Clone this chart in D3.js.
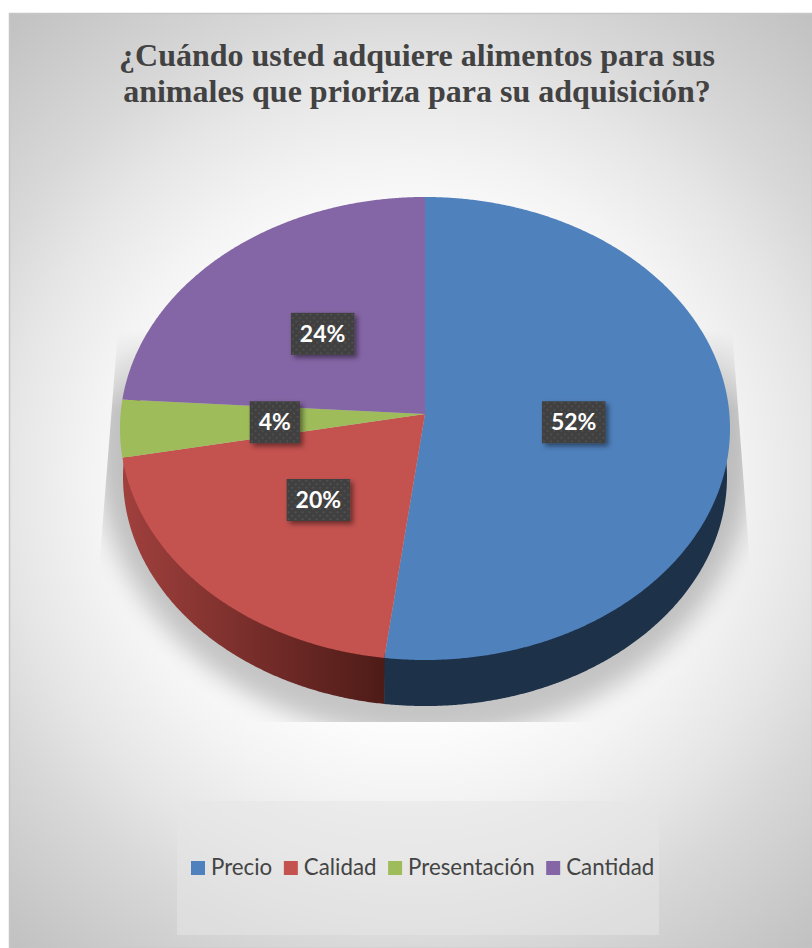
<!DOCTYPE html>
<html lang="es">
<head>
<meta charset="utf-8">
<title>Prioridades al adquirir alimentos</title>
<script src="https://cdn.jsdelivr.net/npm/d3@7/dist/d3.min.js"></script>
<style>
  html, body { margin: 0; padding: 0; background: #fff; }
  svg { display: block; }
</style>
</head>
<body>
<svg id="chart" width="812" height="948"></svg>
<script>
// Chart content
const categories = ["Precio", "Calidad", "Presentación", "Cantidad"];
const shares = [52, 20, 4, 24];
const titleLines = [
  "¿Cuándo usted adquiere alimentos para sus",
  "animales que prioriza para su adquisición?"
];

// Styling per category
const faceColors = ["#4f81bd", "#c4524f", "#9ebc5a", "#8465a5"];
const sideStart = ["#1d3149", "#a0403d", "#7b9443", "#644f80"];
const sideEnd = ["#1d3149", "#4e1b17", "#7b9443", "#644f80"];
// Small hand adjustments to the data label anchors
const tagNudges = [[-3.5, 1], [0, 0], [2, 1], [-0.5, 2]];

const svg = d3.select("#chart");
const defs = svg.append("defs");

// Backdrop: wide radial fade from a near-white middle to grey corners
const backdrop = defs.append("radialGradient")
  .attr("id", "backdrop").attr("gradientUnits", "userSpaceOnUse")
  .attr("cx", 411).attr("cy", 480).attr("r", 620);
[[0, "#ffffff"], [0.39, "#fdfdfd"], [0.52, "#f3f3f3"], [0.65, "#e6e6e6"],
 [0.76, "#d8d8d8"], [1, "#c0c0c0"]].forEach(([o, c]) =>
  backdrop.append("stop").attr("offset", o).attr("stop-color", c));

svg.append("rect")
  .attr("x", 9.5).attr("y", 13.5).attr("width", 803).attr("height", 935)
  .attr("fill", "url(#backdrop)").attr("stroke", "#c6c6c6").attr("stroke-width", 1.5);

// Tilted disc: a unit circle seen in perspective, so the hub sits above the ellipse centre
const tilt = 0.0626;
const upper = { x: 425, y: 414, rx: 304.4, ry: 230.6 };
const lower = { x: 425, y: 462.5, rx: 301.4, ry: 228.3 };
const project = (plane, angle, r = 1) => {
  const ux = r * Math.sin(angle), uy = -r * Math.cos(angle);
  const w = 1 - tilt * uy;
  return [plane.x + plane.rx * ux / w, plane.y + plane.ry * uy / w];
};

const arcs = d3.pie().sort(null).value(d => d)(shares);
const rimPoints = (plane, a, r = 1) => {
  const n = Math.max(2, Math.ceil((a.endAngle - a.startAngle) / 0.006));
  return d3.range(n + 1).map(i =>
    project(plane, a.startAngle + (a.endAngle - a.startAngle) * i / n, r));
};
const line = d3.line();

// Soft cast shadow: trimmed by a slanted cut-out and fading out towards its top
defs.append("filter").attr("id", "castBlur")
  .attr("x", "-20%").attr("y", "-20%").attr("width", "140%").attr("height", "140%")
  .append("feGaussianBlur").attr("stdDeviation", 12);
const castFade = defs.append("linearGradient")
  .attr("id", "castFade").attr("gradientUnits", "userSpaceOnUse")
  .attr("x1", 0).attr("x2", 0).attr("y1", 330).attr("y2", 410);
castFade.append("stop").attr("offset", 0).attr("stop-color", "#000");
castFade.append("stop").attr("offset", 1).attr("stop-color", "#fff");
defs.append("mask").attr("id", "castMask")
  .attr("maskUnits", "userSpaceOnUse")
  .attr("x", 0).attr("y", 0).attr("width", 812).attr("height", 948)
  .append("polygon").attr("points", "118,330 87,722 762,722 732,330")
  .attr("fill", "url(#castFade)");
svg.append("g").attr("mask", "url(#castMask)")
  .append("ellipse")
  .attr("cx", 425).attr("cy", 450).attr("rx", 328).attr("ry", 288)
  .attr("fill", "#000").attr("opacity", 0.22).attr("filter", "url(#castBlur)");

// Rim of the disc: only the front-facing walls show, and the last of them
// runs on past the left silhouette, where the face hides its far end
const silhouette = 1.4 * Math.PI;
const walls = arcs
  .filter(a => a.startAngle < silhouette)
  .map(a => ({
    index: a.index,
    startAngle: a.startAngle,
    endAngle: a.endAngle > silhouette ? 1.6 * Math.PI : a.endAngle + 0.0015
  }))
  .reverse();
walls.forEach(w => {
  const xs = d3.extent(rimPoints(lower, w), p => p[0]);
  const g = defs.append("linearGradient")
    .attr("id", `side${w.index}`).attr("gradientUnits", "userSpaceOnUse")
    .attr("x1", xs[0]).attr("x2", xs[1]).attr("y1", 0).attr("y2", 0);
  g.append("stop").attr("offset", 0).attr("stop-color", sideStart[w.index]);
  g.append("stop").attr("offset", 1).attr("stop-color", sideEnd[w.index]);
});
svg.append("g").selectAll("path").data(walls).join("path")
  .attr("d", w => line(rimPoints(upper, w, 0.98).concat(rimPoints(lower, w).reverse())) + "Z")
  .attr("fill", w => `url(#side${w.index})`);

// Top faces
svg.append("g").selectAll("path").data(arcs).join("path")
  .attr("d", a => line([project(upper, a.startAngle, 0)].concat(rimPoints(upper, a))) + "Z")
  .attr("fill", a => faceColors[a.index]);

// Title
svg.append("g").selectAll("text").data(titleLines).join("text")
  .attr("x", 417).attr("y", (d, i) => 66 + i * 36)
  .attr("text-anchor", "middle")
  .attr("font-family", "'Liberation Serif', serif")
  .attr("font-weight", "bold").attr("font-size", 32).attr("fill", "#424242")
  .text(d => d);

// Data labels: dark dotted tags at half radius
const dots = defs.append("pattern").attr("id", "tagDots")
  .attr("patternUnits", "userSpaceOnUse").attr("width", 7).attr("height", 7);
dots.append("rect").attr("width", 7).attr("height", 7).attr("fill", "#404040");
dots.append("circle").attr("cx", 1.75).attr("cy", 1.75).attr("r", 0.9).attr("fill", "#555555");
dots.append("circle").attr("cx", 5.25).attr("cy", 5.25).attr("r", 0.9).attr("fill", "#555555");
defs.append("filter").attr("id", "tagShadow")
  .attr("x", "-30%").attr("y", "-30%").attr("width", "170%").attr("height", "170%")
  .append("feDropShadow").attr("dx", 3).attr("dy", 3).attr("stdDeviation", 2.5)
  .attr("flood-color", "#000").attr("flood-opacity", 0.45);

const tags = svg.append("g").selectAll("g").data(arcs).join("g")
  .attr("transform", a => {
    const p = project(upper, (a.startAngle + a.endAngle) / 2, 0.5);
    const [dx, dy] = tagNudges[a.index];
    return `translate(${p[0] + dx},${p[1] + dy})`;
  });
const tagRects = tags.append("rect").attr("fill", "url(#tagDots)").attr("filter", "url(#tagShadow)");
const tagTexts = tags.append("text")
  .attr("text-anchor", "middle").attr("dy", "0.35em")
  .attr("font-family", "Lato, sans-serif").attr("font-weight", "bold")
  .attr("font-size", 23).attr("fill", "#fff")
  .text(a => `${a.data}%`);
tagTexts.each(function (a, i) {
  const w = this.getComputedTextLength() + 18;
  d3.select(tagRects.nodes()[i])
    .attr("x", -w / 2).attr("y", -21).attr("width", w).attr("height", 42);
});

// Legend panel and entries
svg.append("rect")
  .attr("x", 177).attr("y", 801).attr("width", 482).attr("height", 134)
  .attr("fill", "#e6e6e6").attr("opacity", 0.55);

const legend = svg.append("g");
let cursor = 191;
categories.forEach((name, i) => {
  legend.append("rect")
    .attr("x", cursor).attr("y", 861).attr("width", 14).attr("height", 14)
    .attr("fill", faceColors[i]);
  const label = legend.append("text")
    .attr("x", cursor + 20).attr("y", 875)
    .attr("font-family", "Lato, sans-serif").attr("font-size", 22.3).attr("fill", "#444")
    .text(name);
  cursor += 20 + label.node().getComputedTextLength() + 11.6;
});
</script>
</body>
</html>
